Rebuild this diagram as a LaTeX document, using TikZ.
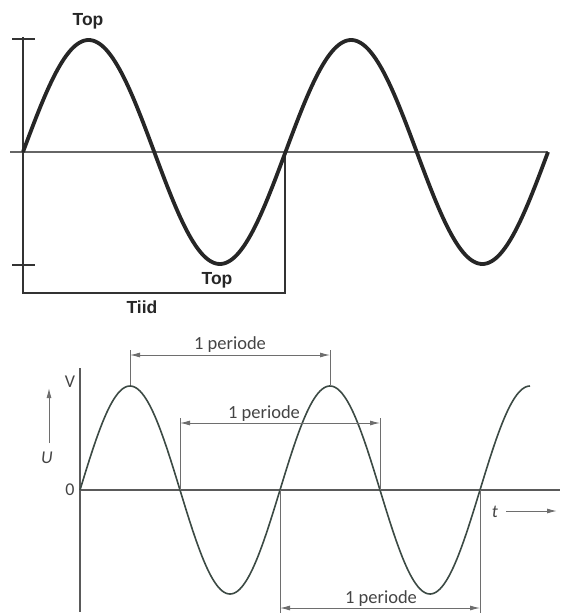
\documentclass[tikz,border=0pt]{standalone}
\usepackage{fontspec}
\setmainfont{Carlito}
\newfontfamily\topfont{Liberation Sans}
\usetikzlibrary{arrows.meta}
\definecolor{wavegray}{HTML}{3C4A44}
\definecolor{axisgray}{HTML}{5A5A5A}
\definecolor{dimgray}{HTML}{6E6E6E}
\definecolor{txtgray}{HTML}{444444}
\begin{document}
\begin{tikzpicture}[x=1pt,y=-1pt,
  bigwave/.style={line width=3.8pt,color=black!85,line join=round},
  topaxis/.style={line width=2pt,color=black!60},
  framebox/.style={line width=2pt,color=black!80},
  toplbl/.style={font=\topfont\bfseries\fontsize{17.5}{17.5}\selectfont,text=black!85,inner sep=0pt},
  smallwave/.style={line width=1.6pt,color=wavegray},
  baxis/.style={line width=1.4pt,color=axisgray},
  dimline/.style={line width=0.9pt,color=dimgray},
  dimarrow/.style={dimline,{Latex[length=10pt,width=5pt]}-{Latex[length=10pt,width=5pt]}},
  dirarrow/.style={line width=1pt,color=dimgray,-{Latex[length=10pt,width=5pt]}},
  blbl/.style={font=\fontsize{18.5}{18.5}\selectfont,text=txtgray,inner sep=0pt,anchor=base},
  axlbl/.style={font=\fontsize{18}{18}\selectfont,text=txtgray,inner sep=0pt}]
\useasboundingbox (0,0) rectangle (560,615);
% ---------- top diagram ----------
\coordinate (tA) at (10,152);
\coordinate (tB) at (548,152);
\draw[topaxis] (tA) -- (tB);
\coordinate (vT) at (23,37);
\coordinate (vB) at (23,293);
\coordinate (hR) at (285,293);
\coordinate (hU) at (285,152);
\draw[framebox] (vT) -- (vB) -- (hR) -- (hU);
\coordinate (t1L) at (12,39);  \coordinate (t1R) at (35,39);
\coordinate (t2L) at (12,265); \coordinate (t2R) at (35,265);
\draw[framebox] (t1L) -- (t1R);
\draw[framebox] (t2L) -- (t2R);
\draw[bigwave] plot[domain=0:525,samples=241] ({23+\x},{152-112*sin(\x/262.5*360)});
\node[toplbl] (top1) at (88,21) {Top};
\node[toplbl] (top2) at (217,280) {Top};
\node[toplbl] (tiid) at (142,307) {Tiid};
% ---------- bottom diagram ----------
\coordinate (bvT) at (80,368);
\coordinate (bvB) at (80,612);
\coordinate (bhL) at (80,490);
\coordinate (bhR) at (560,490);
\draw[baxis] (bvT) -- (bvB);
\draw[baxis] (bhL) -- (bhR);
\draw[smallwave] plot[domain=0:450,samples=241] ({80+\x},{490-104*sin(\x*1.8)});
% dimension 1 (peak to peak)
\coordinate (d1a) at (130,350); \coordinate (d1aw) at (130,385);
\coordinate (d1b) at (330,350); \coordinate (d1bw) at (330,385);
\coordinate (d1L) at (130,355); \coordinate (d1R) at (330,355);
\draw[dimline] (d1a) -- (d1aw);
\draw[dimline] (d1b) -- (d1bw);
\draw[dimarrow] (d1L) -- (d1R);
\node[blbl] (p1) at (230,349) {1 periode};
% dimension 2 (zero to zero)
\coordinate (d2a) at (180,418); \coordinate (d2aw) at (180,490);
\coordinate (d2b) at (380,418); \coordinate (d2bw) at (380,490);
\coordinate (d2L) at (180,423); \coordinate (d2R) at (380,423);
\draw[dimline] (d2a) -- (d2aw);
\draw[dimline] (d2b) -- (d2bw);
\draw[dimarrow] (d2L) -- (d2R);
\node[blbl] (p2) at (264,418) {1 periode};
% dimension 3 (lower)
\coordinate (d3a) at (280,490); \coordinate (d3aw) at (280,613);
\coordinate (d3b) at (480,490); \coordinate (d3bw) at (480,613);
\coordinate (d3L) at (280,608); \coordinate (d3R) at (480,608);
\draw[dimline] (d3a) -- (d3aw);
\draw[dimline] (d3b) -- (d3bw);
\draw[dimarrow] (d3L) -- (d3R);
\node[blbl] (p3) at (381,603) {1 periode};
% axis labels
\node[axlbl] (lV) at (70,382) {V};
\node[axlbl] (l0) at (70,490) {0};
\node[axlbl,font=\itshape\fontsize{18}{18}\selectfont] (lU) at (47,458) {U};
\coordinate (uS) at (49,443); \coordinate (uE) at (49,388);
\draw[dirarrow] (uS) -- (uE);
\node[axlbl,font=\itshape\fontsize{18}{18}\selectfont] (lt) at (495,512) {t};
\coordinate (tS) at (506,511); \coordinate (tE) at (557,511);
\draw[dirarrow] (tS) -- (tE);
\end{tikzpicture}
\end{document}
